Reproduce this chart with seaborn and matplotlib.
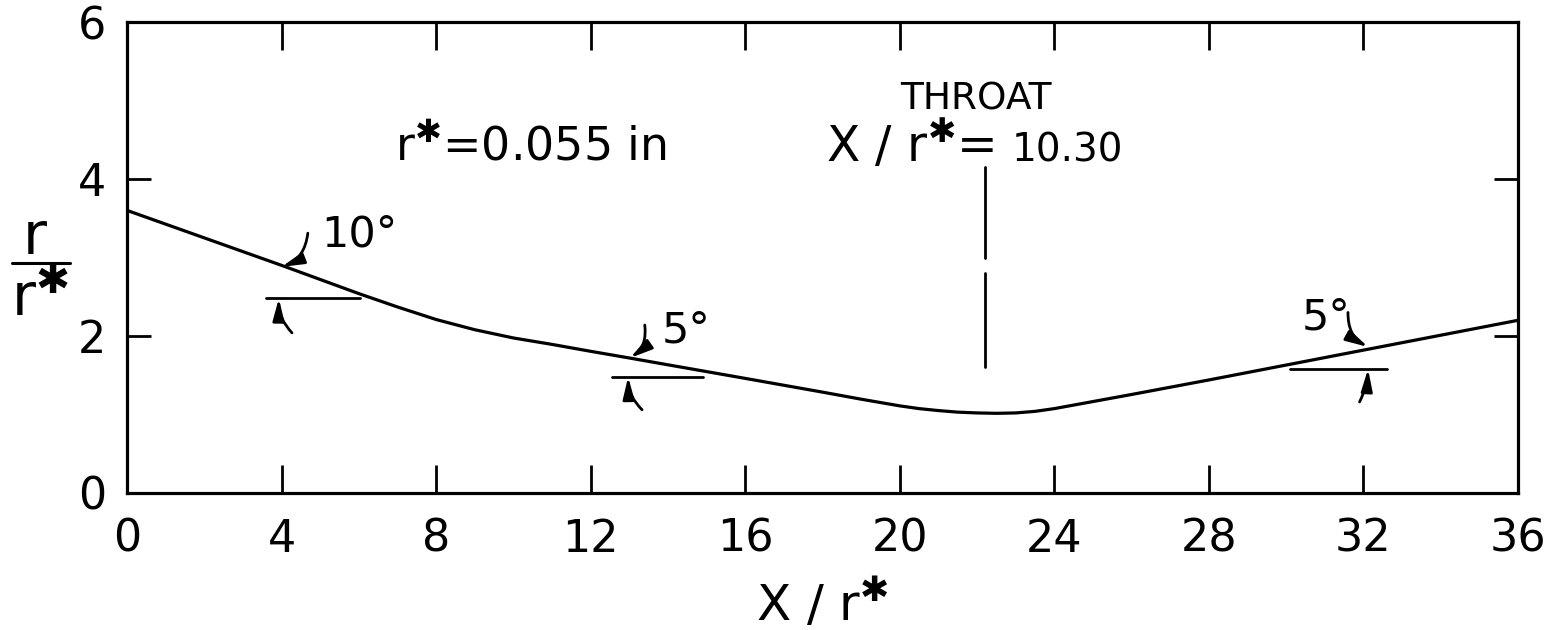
import matplotlib
matplotlib.use("Agg")
import matplotlib.pyplot as plt
from matplotlib.lines import Line2D
import numpy as np
import pandas as pd
import seaborn as sns

# Nozzle wall contour, r/r* against x/r*
x_over_rstar = [0, 2, 4, 6, 7, 8, 9, 10, 11, 12, 13, 14, 16, 18, 19, 20, 20.5, 21,
                21.5, 22, 22.5, 23, 23.5, 24, 25, 26, 28, 30, 32, 34, 36]
r_over_rstar = [3.60, 3.25, 2.90, 2.54, 2.37, 2.21, 2.08, 1.975, 1.893, 1.805, 1.72,
                1.633, 1.46, 1.285, 1.195, 1.11, 1.075, 1.05, 1.03, 1.02, 1.015, 1.02,
                1.04, 1.075, 1.165, 1.255, 1.44, 1.63, 1.82, 2.01, 2.20]

x_ticks = [0, 4, 8, 12, 16, 20, 24, 28, 32, 36]
y_ticks = [0, 2, 4, 6]

throat_x = 22.2
throat_label = "10.30"
rstar_label = "r$^{✱}$=0.055 in"

# wall-angle callouts: label, curve point, arrow tail, ref line, lower arrow tail
angle_labels = ["10°", "5°", "5°"]
angle_points = [(4.0, 2.88), (13.02, 1.72), (32.12, 1.86)]
angle_label_xy = [(5.04, 3.14), (13.85, 1.92), (30.41, 2.08)]
angle_tail_xy = [(4.68, 3.31), (13.4, 2.14), (31.6, 2.30)]
angle_ref_x = [(3.6, 6.03), (12.55, 14.9), (30.1, 32.6)]
angle_ref_y = [2.48, 1.48, 1.58]
angle_low_tail = [(4.27, 2.04), (13.33, 1.06), (31.9, 1.16)]
angle_low_head = [(3.93, 2.48), (12.97, 1.48), (32.12, 1.58)]
angle_rad = [-0.3, -0.3, 0.3]
angle_low_rad = [-0.2, -0.2, 0.1]

sns.set_theme(style="white")
plt.rcParams["font.family"] = ["DejaVu Sans"]
plt.rcParams["mathtext.default"] = "regular"

fig = plt.figure(figsize=(15.55, 6.30), dpi=100)
ax = fig.add_axes([127 / 1555, 1 - 493 / 630, (1518 - 127) / 1555, (493 - 22) / 630])

df = pd.DataFrame({"x": x_over_rstar, "r": r_over_rstar})
sns.lineplot(data=df, x="x", y="r", ax=ax, color="black", linewidth=2.3, sort=True)

ax.set_xlim(0, 36)
ax.set_ylim(0, 6)
ax.set_xticks(x_ticks)
ax.set_yticks(y_ticks)
ax.set_xticklabels([str(t) for t in x_ticks])
ax.set_yticklabels([str(t) for t in y_ticks])

for s in ax.spines.values():
    s.set_color("black")
    s.set_linewidth(2.3)

ax.tick_params(axis="x", direction="in", top=True, bottom=True, length=20, width=2.0,
               pad=18, labelsize=32, colors="black")
ax.tick_params(axis="y", direction="in", left=True, right=True, length=17, width=2.0,
               pad=15, labelsize=32, colors="black")

ax.set_xlabel("X / r$^{✱}$", fontsize=36, color="black", labelpad=12)
ax.set_ylabel("")

# y-axis label drawn as a fraction r / r*
fig.text(35 / 1555, 1 - 238 / 630, "r", fontsize=42, ha="center", va="center", color="black")
fig.add_artist(Line2D([12 / 1555, 70 / 1555], [1 - 263 / 630, 1 - 263 / 630],
                      color="black", linewidth=2.2, transform=fig.transFigure))
fig.text(40 / 1555, 1 - 300 / 630, "r$^{✱}$", fontsize=42, ha="center", va="center", color="black")

# throat station
ax.plot([throat_x, throat_x, np.nan, throat_x, throat_x], [4.15, 3.0, np.nan, 2.8, 1.6],
        color="black", linewidth=2.0)
ax.text(20.0, 4.88, "THROAT", fontsize=27, ha="left", va="baseline", color="black")
ax.text(18.1, 4.22, "X / r$^{✱}$=", fontsize=35, ha="left", va="baseline", color="black")
ax.text(22.9, 4.22, throat_label, fontsize=28, ha="left", va="baseline", color="black")

ax.text(6.94, 4.24, rstar_label, fontsize=33, ha="left", va="baseline", color="black")

# wall-angle callouts
arrow_style = "-|>,head_length=1.1,head_width=0.28"
for i, lab in enumerate(angle_labels):
    ax.text(*angle_label_xy[i], lab, fontsize=31, ha="left", va="baseline", color="black")
    ax.annotate("", xy=angle_points[i], xytext=angle_tail_xy[i],
                arrowprops=dict(arrowstyle=arrow_style, color="black", lw=2.0,
                                shrinkA=0, shrinkB=0,
                                connectionstyle=f"arc3,rad={angle_rad[i]}"))
    ax.plot(angle_ref_x[i], [angle_ref_y[i], angle_ref_y[i]], color="black", linewidth=2.0)
    ax.annotate("", xy=angle_low_head[i], xytext=angle_low_tail[i],
                arrowprops=dict(arrowstyle=arrow_style, color="black", lw=2.0,
                                shrinkA=0, shrinkB=0,
                                connectionstyle=f"arc3,rad={angle_low_rad[i]}"))

fig.savefig("out.png", dpi=100, facecolor="white")
